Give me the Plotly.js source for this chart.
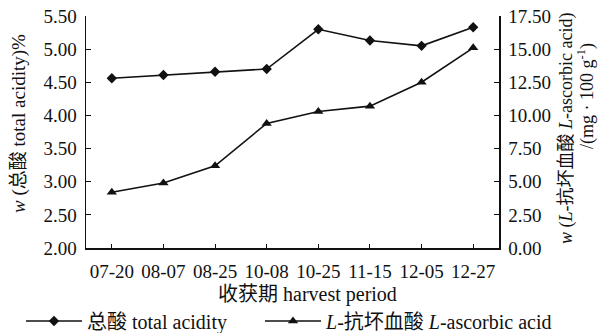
<!DOCTYPE html>
<html><head><meta charset="utf-8">
<script src="https://cdn.plot.ly/plotly-3.0.1.min.js"></script>
<style>html,body{margin:0;padding:0;background:#fff}#chart{width:610px;height:333px}</style>
</head><body><div id="chart"></div>
<script>
const categories = ["07-20","08-07","08-25","10-08","10-25","11-15","12-05","12-27"];
const totalAcidity = [4.56, 4.61, 4.66, 4.70, 5.30, 5.13, 5.05, 5.33];
const ascorbicAcid = [4.2, 4.9, 6.2, 9.4, 10.3, 10.7, 12.5, 15.1];
const leftTicks = [2.0, 2.5, 3.0, 3.5, 4.0, 4.5, 5.0, 5.5];
const rightTicks = [0, 2.5, 5, 7.5, 10, 12.5, 15, 17.5];
const seriesNames = ["总酸 total acidity", "<i>L</i>-抗坏血酸 <i>L</i>-ascorbic acid"];
const xTitle = "收获期 harvest period";
const yTitleLeft = "<i>w</i> (总酸 total acidity)%";
const yTitleRight1 = "<i>w</i> (<i>L</i>-抗坏血酸 <i>L</i>-ascorbic acid)";
const yTitleRight2 = "/(mg · 100 g<sup>-1</sup>)";

const FONT = "Liberation Serif, Times New Roman, Noto Sans CJK SC, serif";
const INK = "#111";

const traces = [
  {x: categories, y: totalAcidity, name: seriesNames[0], type: "scatter", mode: "lines+markers",
   line: {color: INK, width: 1.6}, marker: {symbol: "diamond", size: 8, color: INK}, yaxis: "y", legend: "legend"},
  {x: categories, y: ascorbicAcid, name: seriesNames[1], type: "scatter", mode: "lines+markers",
   line: {color: INK, width: 1.6}, marker: {symbol: "triangle-up", size: 9, color: INK}, yaxis: "y2", legend: "legend2"}
];

const legendBase = {orientation: "h", xref: "container", yref: "container", xanchor: "left",
  y: 12 / 333, yanchor: "middle", font: {family: FONT, size: 20}, itemwidth: 56,
  bgcolor: "rgba(0,0,0,0)", borderwidth: 0};

const layout = {
  width: 610, height: 333,
  margin: {l: 86, r: 111, t: 16, b: 85, autoexpand: false},
  paper_bgcolor: "#fff", plot_bgcolor: "#fff",
  font: {family: FONT, size: 19, color: INK},
  showlegend: true,
  legend: Object.assign({}, legendBase, {x: 21 / 610}),
  legend2: Object.assign({}, legendBase, {x: 260 / 610}),
  xaxis: {type: "category", range: [-0.5, 7.5], showline: true, linecolor: INK, linewidth: 1.5,
          ticks: "inside", ticklen: 4, tickcolor: INK, showgrid: false, zeroline: false,
          tickfont: {size: 19}, ticklabelstandoff: 6},
  yaxis: {range: [2, 5.5], tickvals: leftTicks, tickformat: ".2f", showline: true, linecolor: INK, linewidth: 1.5,
          ticks: "inside", ticklen: 5, tickcolor: INK, showgrid: false, zeroline: false,
          tickfont: {size: 19}, ticklabelstandoff: 4},
  yaxis2: {range: [0, 17.5], tickvals: rightTicks, tickformat: ".2f", overlaying: "y", side: "right",
           showline: true, linecolor: INK, linewidth: 1.5,
           ticks: "inside", ticklen: 5, tickcolor: INK, showgrid: false, zeroline: false,
           tickfont: {size: 19}, ticklabelstandoff: 4},
  annotations: [
    {text: xTitle, xref: "paper", yref: "paper", x: (307 - 86) / 413, y: (248 - 294) / 232,
     xanchor: "center", yanchor: "middle", showarrow: false, font: {size: 20}},
    {text: yTitleLeft, xref: "paper", yref: "paper", x: (19 - 86) / 413, y: (248 - 124) / 232,
     xanchor: "center", yanchor: "middle", textangle: -90, showarrow: false, font: {size: 19}},
    {text: yTitleRight1, xref: "paper", yref: "paper", x: (566 - 86) / 413, y: (248 - 129) / 232,
     xanchor: "center", yanchor: "middle", textangle: -90, showarrow: false, font: {size: 18}},
    {text: yTitleRight2, xref: "paper", yref: "paper", x: (586 - 86) / 413, y: (248 - 96) / 232,
     xanchor: "center", yanchor: "middle", textangle: -90, showarrow: false, font: {size: 18}}
  ]
};

Plotly.newPlot("chart", traces, layout, {displayModeBar: false, staticPlot: true});
</script></body></html>
